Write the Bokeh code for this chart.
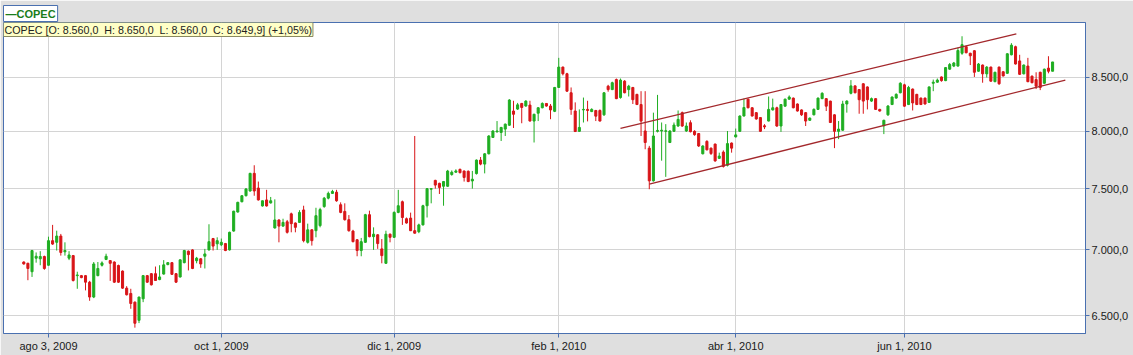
import pandas as pd
from bokeh.plotting import figure
from bokeh.models import Range1d, FixedTicker, Label, ColumnDataSource
from bokeh.embed import file_html
from bokeh.resources import INLINE

# ---------------- data ----------------
start_date = "2009-07-24"
end_date = "2010-07-23"
holidays = ["2009-09-18", "2009-10-12", "2009-12-08", "2009-12-25", "2009-12-31",
            "2010-01-01", "2010-04-02", "2010-05-21", "2010-06-28", "2010-07-16"]

open_ = [
    6905, 6895, 6830, 6935, 6930, 6948, 6880, 7073, 7060, 7110,
    6985, 6935, 6955, 6800, 6800, 6800, 6750, 6638, 6800, 6880,
    6925, 6916, 6905, 6878, 6835, 6705, 6665, 6600, 6466, 6625,
    6800, 6815, 6815, 6770, 6812, 6885, 6900, 6815, 6790, 6900,
    6990, 7000, 6915, 6930, 6950, 7000, 7090, 7048, 7040, 7050,
    7000, 7150, 7305, 7390, 7440, 7480, 7630, 7505, 7355, 7405,
    7380, 7175, 7240, 7190, 7225, 7290, 7215, 7220, 7322, 7060,
    7160, 7153, 7194, 7350, 7420, 7460, 7470, 7365, 7310, 7242,
    7150, 7080, 6995, 7060, 7283, 7105, 7120, 7008, 6895, 7125,
    7100, 7302, 7390, 7250, 7255, 7153, 7145, 7200, 7357, 7495,
    7570, 7545, 7520, 7520, 7620, 7640, 7665, 7650, 7648, 7565,
    7628, 7745, 7710, 7800, 7945, 7995, 7990, 8020, 8055, 8185,
    8203, 8255, 8231, 8240, 8093, 8165, 8215, 8255, 8231, 8182,
    8405, 8600, 8536, 8355, 8185, 8000, 8195, 8200, 8180, 8190,
    8190, 8150, 8417, 8385, 8480, 8310, 8465, 8385, 8405, 8340,
    8245, 8003, 7850, 7566, 8000, 8003, 8000, 7900, 8000, 8048,
    8170, 8003, 8078, 8000, 7980, 7800, 7910, 7850, 7886, 7760,
    7815, 7700, 7895, 7950, 8000, 8139, 8295, 8215, 8170, 8125,
    8050, 8093, 8195, 8215, 8048, 8230, 8295, 8305, 8250, 8195,
    8170, 8100, 8150, 8200, 8300, 8300, 8277, 8150, 8000, 8010,
    8250, 8350, 8420, 8385, 8440, 8410, 8277, 8300, 8200, 8050,
    8150, 8245, 8305, 8355, 8430, 8245, 8390, 8340, 8305, 8305,
    8265, 8445, 8455, 8505, 8470, 8580, 8610, 8610, 8735, 8800,
    8735, 8760, 8560, 8620, 8535, 8600, 8460, 8600, 8555, 8540,
    8720, 8800, 8660, 8535, 8610, 8513, 8480, 8550, 8445, 8590,
    8560,
]
high = [
    6910, 6900, 7000, 6980, 6990, 6955, 7105, 7200, 7153, 7127,
    7060, 6990, 6960, 6830, 6805, 6805, 6760, 6905, 6905, 6910,
    6970, 6920, 6910, 6885, 6840, 6720, 6700, 6605, 6640, 6805,
    6805, 6820, 6870, 6880, 6920, 6905, 6905, 6820, 6925, 7000,
    6995, 7005, 6945, 6935, 7008, 7205, 7095, 7100, 7090, 7055,
    7145, 7315, 7390, 7445, 7505, 7635, 7700, 7560, 7400, 7490,
    7430, 7410, 7245, 7250, 7240, 7300, 7220, 7320, 7357, 7210,
    7165, 7340, 7340, 7430, 7475, 7490, 7490, 7385, 7377, 7280,
    7160, 7085, 7095, 7290, 7316, 7180, 7125, 7086, 7153, 7130,
    7310, 7490, 7400, 7260, 7300, 7958, 7210, 7365, 7505, 7505,
    7575, 7550, 7565, 7660, 7655, 7665, 7670, 7655, 7655, 7651,
    7750, 7772, 7805, 7965, 8010, 8093, 8040, 8070, 8295, 8280,
    8260, 8260, 8285, 8280, 8160, 8220, 8265, 8258, 8250, 8410,
    8690, 8605, 8545, 8405, 8265, 8200, 8310, 8280, 8210, 8195,
    8200, 8360, 8430, 8460, 8490, 8490, 8475, 8430, 8410, 8345,
    8370, 8370, 7870, 8170, 8335, 8080, 8065, 8010, 8080, 8190,
    8180, 8080, 8100, 8010, 7985, 7875, 7920, 7855, 7890, 7810,
    7830, 8003, 7900, 8025, 8145, 8300, 8300, 8220, 8175, 8130,
    8065, 8320, 8300, 8225, 8250, 8300, 8330, 8310, 8255, 8200,
    8175, 8125, 8210, 8310, 8360, 8305, 8280, 8155, 8093, 8280,
    8285, 8475, 8425, 8390, 8445, 8415, 8310, 8305, 8205, 8105,
    8240, 8320, 8350, 8455, 8440, 8420, 8395, 8345, 8310, 8310,
    8415, 8480, 8490, 8510, 8600, 8640, 8650, 8790, 8904, 8810,
    8740, 8765, 8640, 8625, 8610, 8605, 8555, 8605, 8560, 8735,
    8835, 8810, 8720, 8625, 8690, 8518, 8550, 8555, 8585, 8706,
    8650,
]
low = [
    6885, 6765, 6790, 6900, 6880, 6845, 6878, 7040, 6995, 6955,
    6955, 6920, 6755, 6700, 6780, 6688, 6610, 6630, 6795, 6870,
    6920, 6760, 6745, 6745, 6700, 6650, 6551, 6413, 6446, 6600,
    6745, 6725, 6760, 6765, 6808, 6880, 6805, 6745, 6785, 6895,
    6840, 6850, 6895, 6860, 6855, 6995, 6995, 7000, 7030, 6990,
    6995, 7145, 7300, 7385, 7435, 7475, 7440, 7400, 7350, 7350,
    7375, 7170, 7060, 7185, 7130, 7140, 7140, 7215, 7060, 7050,
    7034, 7100, 7180, 7340, 7410, 7455, 7390, 7295, 7235, 7145,
    7060, 6950, 6950, 7055, 7100, 7000, 7008, 6895, 6890, 7060,
    7095, 7295, 7200, 7210, 7150, 7130, 7133, 7195, 7260, 7377,
    7500, 7455, 7357, 7515, 7610, 7635, 7630, 7560, 7555, 7500,
    7620, 7700, 7630, 7795, 7940, 7990, 7913, 7958, 8050, 8030,
    8195, 8073, 8225, 8090, 7900, 8093, 8210, 8225, 8110, 8175,
    8400, 8520, 8365, 8150, 7995, 7995, 8080, 8090, 8175, 8093,
    8090, 8140, 8365, 8380, 8295, 8300, 8350, 8320, 8250, 8240,
    7958, 7840, 7495, 7560, 7990, 7740, 7600, 7895, 7995, 8040,
    8040, 7995, 7990, 7960, 7860, 7795, 7830, 7790, 7730, 7755,
    7680, 7690, 7810, 7945, 7995, 8135, 8210, 8135, 8105, 7995,
    8020, 8090, 8190, 8040, 7995, 8225, 8290, 8210, 8180, 8140,
    8048, 8095, 8145, 8195, 8295, 8185, 8075, 7850, 7930, 8005,
    8170, 8340, 8350, 8160, 8160, 8200, 8270, 8195, 8180, 7975,
    8140, 8240, 8300, 8350, 8225, 8240, 8190, 8240, 8240, 8245,
    8260, 8370, 8450, 8460, 8465, 8575, 8600, 8605, 8720, 8735,
    8620, 8505, 8555, 8450, 8500, 8460, 8455, 8430, 8510, 8535,
    8715, 8625, 8525, 8530, 8455, 8445, 8390, 8380, 8440, 8540,
    8560,
]
close = [
    6890, 6855, 6995, 6950, 6948, 6855, 7073, 7046, 7110, 6980,
    6995, 6960, 6763, 6805, 6785, 6750, 6638, 6890, 6855, 6898,
    6950, 6895, 6750, 6750, 6705, 6655, 6590, 6445, 6638, 6800,
    6750, 6730, 6763, 6790, 6883, 6900, 6810, 6750, 6922, 6995,
    6963, 6855, 6935, 6890, 6968, 7065, 7030, 7073, 7060, 6995,
    7140, 7312, 7385, 7440, 7497, 7630, 7480, 7405, 7398, 7355,
    7398, 7240, 7190, 7220, 7140, 7210, 7180, 7302, 7073, 7160,
    7073, 7275, 7325, 7420, 7460, 7476, 7398, 7302, 7242, 7153,
    7065, 6995, 7065, 7283, 7105, 7125, 7050, 6955, 7125, 7100,
    7302, 7357, 7260, 7215, 7153, 7133, 7200, 7357, 7500, 7500,
    7530, 7510, 7560, 7650, 7640, 7651, 7636, 7595, 7560, 7580,
    7745, 7710, 7800, 7958, 8003, 8003, 8035, 8065, 8287, 8155,
    8242, 8218, 8277, 8093, 8155, 8215, 8255, 8231, 8195, 8405,
    8600, 8536, 8370, 8200, 7998, 8035, 8200, 8190, 8200, 8138,
    8093, 8355, 8385, 8450, 8300, 8475, 8355, 8417, 8290, 8245,
    8093, 7900, 7566, 7958, 8008, 8010, 8005, 8003, 8057, 8108,
    8048, 8048, 7997, 7970, 7869, 7869, 7835, 7802, 7738, 7780,
    7690, 7890, 7850, 7968, 8139, 8217, 8215, 8139, 8112, 8000,
    8040, 8200, 8215, 8048, 8245, 8295, 8315, 8215, 8185, 8150,
    8093, 8120, 8200, 8305, 8350, 8230, 8080, 8000, 8020, 8250,
    8277, 8420, 8355, 8290, 8277, 8290, 8300, 8200, 8185, 8100,
    8231, 8315, 8340, 8445, 8230, 8405, 8260, 8245, 8245, 8250,
    8410, 8455, 8475, 8470, 8595, 8625, 8640, 8762, 8820, 8740,
    8710, 8550, 8630, 8535, 8600, 8465, 8550, 8440, 8515, 8730,
    8815, 8630, 8530, 8620, 8460, 8450, 8417, 8405, 8580, 8560,
    8649.9,
]

tick_dates = ["2009-08-03", "2009-10-01", "2009-12-01", "2010-02-01", "2010-04-01", "2010-06-01"]
tick_labels = ["ago 3, 2009", "oct 1, 2009", "dic 1, 2009", "feb 1, 2010", "abr 1, 2010", "jun 1, 2010"]
price_ticks = [6500, 7000, 7500, 8000, 8500]
price_labels = ["6.500,0", "7.000,0", "7.500,0", "8.000,0", "8.500,0"]

# channel lines (trading-day position, price)
trend_upper_x = [145.0, 241.2]
trend_upper_y = [8027, 8927]
trend_lower_x = [152.0, 253.1]
trend_lower_y = [7538, 8475]

legend_text = "\u2014COPEC"
info_text = ("COPEC [O: 8.560,0\u00a0\u00a0H: 8.650,0\u00a0\u00a0L: 8.560,0\u00a0\u00a0"
             "C: 8.649,9] (+1,05%)")

# ---------------- build ----------------
days = pd.bdate_range(start_date, end_date)
days = days[~days.isin(pd.to_datetime(holidays))]
n = len(open_)
days = days[:n]
xs = list(range(n))
tick_pos = [int(days.get_loc(pd.Timestamp(d))) for d in tick_dates]

GREEN = "#1fae22"
RED = "#d81518"
colors = [GREEN if c >= o else RED for o, c in zip(open_, close)]
src = ColumnDataSource(dict(
    x=xs, o=open_, h=high, l=low, c=close,
    top=[max(o, c) for o, c in zip(open_, close)],
    bottom=[min(o, c) for o, c in zip(open_, close)],
    color=colors,
))

BLUE = "#4a70b0"
p = figure(width=1133, height=355, output_backend="svg", toolbar_location=None,
           x_range=Range1d(-4.93, 258.0), y_range=Range1d(6371, 9043),
           y_axis_type="log", y_axis_location="right",
           min_border_left=3, min_border_right=48, min_border_top=22, min_border_bottom=22)
p.background_fill_color = "white"
p.border_fill_color = "#dfdfdf"
p.outline_line_color = BLUE
p.outline_line_width = 1

# legend box drawn as the figure title, above the frame
p.title.text = legend_text
p.title.align = "left"
p.title.text_font = "Liberation Sans"
p.title.text_font_size = "11px"
p.title.text_font_style = "bold"
p.title.text_color = "#1b7d1b"
p.title.background_fill_color = "white"
p.title.border_line_color = BLUE
p.title.padding = 2
p.title.standoff = 2
p.title.offset = 0

p.xaxis.ticker = FixedTicker(ticks=tick_pos)
p.xaxis.major_label_overrides = {tp: lab for tp, lab in zip(tick_pos, tick_labels)}
p.yaxis.ticker = FixedTicker(ticks=price_ticks)
p.yaxis.major_label_overrides = {t: lab for t, lab in zip(price_ticks, price_labels)}

for ax in (p.xaxis[0], p.yaxis[0]):
    ax.axis_line_color = BLUE
    ax.major_tick_line_color = BLUE
    ax.minor_tick_line_color = None
    ax.major_tick_out = 4
    ax.major_tick_in = 0
    ax.major_label_text_font = "Liberation Sans"
    ax.major_label_text_font_size = "11px"
    ax.major_label_text_color = "#1a1a1a"
    ax.major_label_standoff = 2

p.xgrid.grid_line_color = "#d4d4d4"
p.ygrid.grid_line_color = "#d4d4d4"

p.segment(x0="x", y0="l", x1="x", y1="h", line_color="color", line_width=1, source=src)
p.vbar(x="x", width=0.5, top="top", bottom="bottom", fill_color="color",
       line_color="color", line_width=1, source=src)

p.line(trend_upper_x, trend_upper_y, line_color="#a3282c", line_width=1.3)
p.line(trend_lower_x, trend_lower_y, line_color="#a3282c", line_width=1.3)

p.add_layout(Label(x=0, y=311, x_units="screen", y_units="screen", anchor="top_left",
                   text=info_text, text_font="Liberation Sans", text_font_size="10.7px",
                   text_color="#222222",
                   background_fill_color="#ffffc6", border_line_color="#8a8a60", padding=1))

open("out.html", "w").write(file_html(p, INLINE))
